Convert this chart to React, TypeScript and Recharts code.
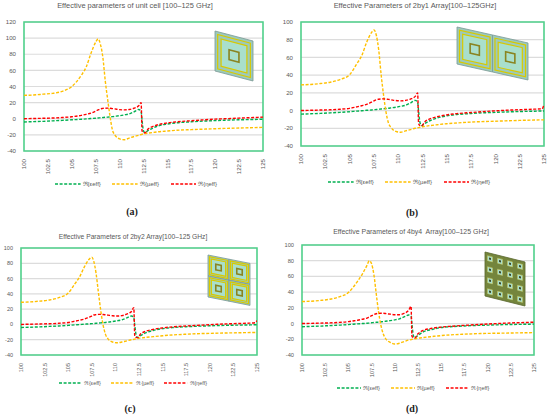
import React from 'react';
import { LineChart, Line, XAxis, YAxis, CartesianGrid, ReferenceArea } from 'recharts';

// frequency grids (GHz) and read-off values, one set per sub-figure
const FREQ_A = [100, 101, 102, 103, 104, 105, 106, 106.5, 107, 107.5, 107.75, 108, 108.25, 108.5, 108.75, 109, 109.25, 109.5, 110, 110.5, 111, 111.5, 112, 112.25, 112.35, 112.5, 112.65, 113, 113.5, 114, 115, 116, 117.5, 119, 120, 121, 122.5, 124, 125];
const EPS_A = [-4, -3.6, -3.2, -2.6, -2, -1.3, -0.6, -0.2, 0.3, 0.7, 1, 1.2, 1.5, 1.8, 2, 2.3, 2.6, 3, 3.8, 4.8, 6, 8.5, 11.5, 9, -2, -15, -17, -14.5, -11.5, -9, -6.5, -5, -3.8, -2.8, -2.3, -1.8, -1.3, -0.9, -0.6];
const MU_A = [29, 29.5, 30.5, 31.5, 34, 40, 54, 64, 81, 95, 99, 92, 76, 47, 24, 3, -14, -20, -25, -26, -24, -22, -20.5, -19.5, -19.2, -18.8, -18.4, -17.8, -17, -16.2, -15.2, -14.3, -13.5, -12.8, -12.4, -12, -11.5, -11, -10.7];
const ETA_A = [0, 0.3, 0.6, 0.9, 1.5, 2.5, 4.2, 5.5, 7, 9.5, 11, 12.3, 12.8, 13.1, 13.2, 13, 12.6, 12.2, 11.3, 11, 11.5, 13, 16, 20, -15, -17, -17.3, -12.5, -9.5, -7.5, -5.2, -3.8, -2.5, -1.2, -0.5, 0, 0.8, 1.5, 2];

const FREQ_B = [100, 101, 102, 103, 104, 105, 105.75, 106.25, 106.75, 107.25, 107.5, 107.75, 108, 108.25, 108.5, 108.75, 109, 109.25, 109.75, 110.25, 110.75, 111.25, 111.75, 112, 112.1, 112.25, 112.4, 112.75, 113.25, 114, 115, 116, 117.5, 119, 120, 121, 122.5, 124, 124.8, 125];
const EPS_B = [-4, -3.6, -3.2, -2.6, -2, -1.3, -0.6, -0.2, 0.3, 0.7, 1, 1.2, 1.5, 1.8, 2, 2.3, 2.6, 3, 3.8, 4.8, 6, 8.5, 11.5, 9.5, -1, -14, -17, -14.5, -11.5, -8.5, -6, -4.5, -3.3, -2.4, -2, -1.6, -1.1, -0.7, -0.5, -0.5];
const MU_B = [29, 29.5, 30.5, 32, 35, 40.5, 53, 62, 77, 88, 91, 85, 68, 40, 17, -2, -14, -19, -23.5, -24.5, -23, -21.5, -20, -19.5, -19.2, -18.8, -18.4, -17.8, -17, -16, -14.8, -14, -13, -12.3, -12, -11.6, -11.1, -10.7, -10.5, -10.5];
const ETA_B = [0, 0.3, 0.6, 0.9, 1.5, 2.5, 4.2, 5.5, 7, 9.5, 11, 12.3, 12.8, 13.1, 13.2, 13, 12.6, 12.2, 11.3, 11, 11.5, 13, 16, 20, -15, -17, -17.3, -12.5, -9.5, -7, -4.8, -3.5, -2.2, -1, -0.3, 0.3, 1, 1.6, 2, 7];

const FREQ_C = [100, 101, 102, 103, 104, 105, 105.7, 106.2, 106.7, 107.2, 107.5, 107.7, 107.95, 108.2, 108.45, 108.7, 108.95, 109.2, 109.7, 110.2, 110.7, 111.2, 111.7, 111.95, 112.05, 112.2, 112.35, 112.7, 113.2, 114, 115, 116, 117.5, 119, 120, 121, 122.5, 124, 124.8, 125];
const EPS_C = [-4, -3.6, -3.2, -2.6, -2, -1.3, -0.6, -0.2, 0.3, 0.7, 1, 1.2, 1.5, 1.8, 2, 2.3, 2.6, 3, 3.8, 4.8, 6, 8.5, 11, 9.5, -1, -14, -17, -14.5, -11, -8, -5.5, -4.2, -3, -2.2, -1.8, -1.4, -1, -0.7, -0.5, -0.5];
const MU_C = [29, 29.5, 30.5, 32, 35, 41, 53, 62, 75, 85, 88, 83, 67, 42, 18, -1, -13, -18.5, -23, -24, -23, -21.5, -20, -19.5, -19.2, -18.8, -18.4, -17.8, -17, -16, -14.8, -13.8, -12.8, -12, -11.7, -11.4, -11, -10.7, -10.5, -10.5];
const ETA_C = [0, 0.3, 0.6, 0.9, 1.5, 2.5, 4.2, 5.5, 7, 9.5, 11, 12.3, 12.8, 13.1, 13.2, 13, 12.6, 12.2, 11.3, 11, 11.5, 13.5, 17, 22, -15, -17, -17.3, -12, -9, -6.5, -4.5, -3.3, -2, -1, -0.3, 0.3, 1, 1.6, 2.2, 5];

const FREQ_D = [100, 101, 102, 103, 104, 105, 105.5, 106, 106.5, 107, 107.25, 107.5, 107.75, 108, 108.25, 108.5, 108.75, 109, 109.5, 110, 110.5, 111, 111.5, 111.75, 111.85, 112, 112.15, 112.5, 113, 114, 115, 116, 117.5, 119, 120, 121, 122.5, 124, 125];
const EPS_D = [-4, -3.6, -3.2, -2.6, -2, -1.3, -0.8, -0.4, 0, 0.4, 0.7, 1, 1.3, 1.6, 1.9, 2.2, 2.5, 2.9, 3.7, 4.7, 6, 8.5, 11, 9.5, -1, -15, -18, -15, -11, -7.5, -5, -4, -3, -2.3, -2, -1.6, -1.2, -0.9, -0.7];
const MU_D = [28, 28.5, 29.5, 31, 34, 39.5, 46, 54, 63, 74, 80, 76, 62, 38, 15, -2, -13, -19, -24, -26, -25, -23, -21, -20.5, -20.2, -19.8, -19.4, -18.6, -17.8, -16.5, -15.3, -14.4, -13.5, -12.8, -12.5, -12.3, -12, -11.7, -11.5];
const ETA_D = [0, 0.3, 0.6, 0.9, 1.5, 2.5, 3.3, 4.2, 5.5, 7, 8.5, 10, 11.5, 12.5, 13, 13.2, 13.1, 12.8, 12, 11.2, 11.3, 13, 17, 22, -16, -18, -18.3, -13, -9, -6, -4.5, -3.5, -2.3, -1.2, -0.6, 0, 0.8, 1.4, 1.8];

const X_TICKS = [100, 102.5, 105, 107.5, 110, 112.5, 115, 117.5, 120, 122.5, 125];
const Y_TICKS_A = [-40, -20, 0, 20, 40, 60, 80, 100, 120];
const Y_TICKS = [-40, -20, 0, 20, 40, 60, 80, 100];
const SERIES_KEYS = ['eps', 'mu', 'eta'];
const SERIES_NAMES = ['ℜ{εeff}', 'ℜ{µeff}', 'ℜ{ηeff}'];
const TITLES = [
  'Effective parameters of unit cell [100–125 GHz]',
  'Effective Parameters of 2by1 Array[100–125GHz]',
  'Effective Parameters of 2by2 Array[100–125 GHz]',
  'Effective Parameters of 4by4  Array[100–125 GHz]',
];

const COLORS: Record<string, string> = { eps: '#00b050', mu: '#ffc000', eta: '#ff0000' };
const TXT = '#595959';
const FONT = '"Liberation Sans", Arial, sans-serif';

const rows = (f: number[], eps: number[], mu: number[], eta: number[]) =>
  f.map((v, i) => ({ f: v, eps: eps[i], mu: mu[i], eta: eta[i] }));

const RotTick = (props: any) => {
  const { x, y, payload, fs } = props;
  return (
    <text x={x} y={y} transform={`rotate(-90 ${x} ${y})`} textAnchor="end" dy="0.35em"
      fontSize={fs} fill={TXT} fontFamily={FONT}>
      {payload.value}
    </text>
  );
};

// little pictures of the metasurface drawn in the corner of each plot
const Cell = ({ x, y, w, h }: { x: number; y: number; w: number; h: number }) => {
  const s = Math.min(w, h) * 0.26;
  return (
    <g>
      <rect x={x} y={y} width={w} height={h} fill="#9ccabc" stroke="#7f9c98" strokeWidth={0.8} />
      <rect x={x + w * 0.07} y={y + h * 0.07} width={w * 0.86} height={h * 0.86} fill="none" stroke="#d8c900" strokeWidth={1.2} />
      <rect x={x + w * 0.16} y={y + h * 0.16} width={w * 0.68} height={h * 0.68} fill="#a9dfcb" stroke="#d8c900" strokeWidth={1.2} />
      <rect x={x + w / 2 - s / 2} y={y + h / 2 - s / 2} width={s} height={s} fill="none" stroke="#8a8420" strokeWidth={1.6} />
    </g>
  );
};

const Inset = ({ x, y, w, h, cols, rowsN, skew, dense }: any) => {
  const cw = w / cols;
  const ch = h / rowsN;
  const cells = [];
  for (let r = 0; r < rowsN; r++) {
    for (let c = 0; c < cols; c++) {
      if (dense) {
        const s = cw * 0.5;
        cells.push(
          <g key={`${r}-${c}`}>
            <rect x={c * cw + cw / 2 - s / 2} y={r * ch + ch / 2 - s / 2} width={s} height={s} fill="#a9dfcb" stroke="#c8c860" strokeWidth={0.5} />
            <rect x={c * cw + cw / 2 - s / 5} y={r * ch + ch / 2 - s / 5} width={s / 2.5} height={s / 2.5} fill="#3d4a2a" />
          </g>
        );
      } else {
        cells.push(<Cell key={`${r}-${c}`} x={c * cw} y={r * ch} w={cw} h={ch} />);
      }
    }
  }
  return (
    <svg style={{ position: 'absolute', left: 0, top: 0, overflow: 'visible' }} width={1} height={1}>
      <g transform={`matrix(1 ${skew} 0 1 ${x} ${y})`}>
        {dense && <rect x={0} y={0} width={w} height={h} fill="#74853c" stroke="#5c6a30" strokeWidth={0.8} />}
        {cells}
      </g>
    </svg>
  );
};

type PanelProps = {
  data: any[];
  title: string;
  yTicks: number[];
  plot: { l: number; t: number; r: number; b: number };
  fs: number;
  titlePos: [number, number];
  legendPos: [number, number];
  label: string;
  labelPos: [number, number];
};

const Panel = ({ data, title, yTicks, plot, fs, titlePos, legendPos, label, labelPos }: PanelProps) => {
  const left = plot.l - 26;
  const top = plot.t - 4;
  const width = plot.r - left + 4;
  const height = plot.b - top + 32;
  const yMin = yTicks[0];
  const yMax = yTicks[yTicks.length - 1];
  return (
    <>
      <div style={{ position: 'absolute', left: titlePos[0] - 150, top: titlePos[1] - fs, width: 300, textAlign: 'center', fontSize: fs * 1.22, color: TXT, whiteSpace: 'pre', lineHeight: `${fs * 2}px` }}>
        {title}
      </div>
      <div style={{ position: 'absolute', left, top }}>
        <LineChart width={width} height={height} data={data} margin={{ top: 4, right: 4, bottom: 0, left: 0 }}>
          <CartesianGrid vertical={false} stroke="#dcdcdc" strokeWidth={1.2} />
          <XAxis dataKey="f" type="number" domain={[100, 125]} ticks={X_TICKS} interval={0}
            axisLine={false} tickLine={false} height={32} allowDataOverflow
            tick={(p: any) => <RotTick {...p} fs={fs} />} />
          <YAxis type="number" domain={[yMin, yMax]} ticks={yTicks} interval={0} width={26}
            axisLine={false} tickLine={false} allowDataOverflow
            tick={{ fontSize: fs, fill: TXT, fontFamily: FONT }} />
          <ReferenceArea x1={100} x2={125} y1={yMin} y2={yMax} fill="none" stroke="#4fd08a"
            strokeWidth={1.6} ifOverflow="visible" />
          {SERIES_KEYS.map((k) => (
            <Line key={k} type="monotone" dataKey={k} stroke={COLORS[k]} strokeWidth={1.4}
              strokeDasharray="3 1.6" dot={false} activeDot={false} isAnimationActive={false} />
          ))}
        </LineChart>
      </div>
      <div style={{ position: 'absolute', left: legendPos[0] - 120, top: legendPos[1] - 6, width: 240, height: 12, display: 'flex', justifyContent: 'center', alignItems: 'center', gap: fs * 1.9, fontSize: fs * 0.98, color: TXT }}>
        {SERIES_KEYS.map((k, i) => (
          <div key={k} style={{ display: 'flex', alignItems: 'center', gap: 2 }}>
            <svg width={fs * 4.2} height={4}>
              <line x1={0} y1={2} x2={fs * 4.2} y2={2} stroke={COLORS[k]} strokeWidth={1.5} strokeDasharray="3 1.6" />
            </svg>
            <span>{SERIES_NAMES[i]}</span>
          </div>
        ))}
      </div>
      <div style={{ position: 'absolute', left: labelPos[0] - 20, top: labelPos[1] - 7, width: 40, textAlign: 'center', fontFamily: '"Liberation Serif", serif', fontWeight: 'bold', fontSize: 10, color: '#222', lineHeight: '14px' }}>
        {label}
      </div>
    </>
  );
};

export default function App() {
  const a = rows(FREQ_A, EPS_A, MU_A, ETA_A);
  const b = rows(FREQ_B, EPS_B, MU_B, ETA_B);
  const c = rows(FREQ_C, EPS_C, MU_C, ETA_C);
  const d = rows(FREQ_D, EPS_D, MU_D, ETA_D);
  return (
    <div style={{ position: 'absolute', left: 0, top: 0, width: 550, height: 418, background: '#fff', overflow: 'hidden', fontFamily: FONT }}>
      <Panel data={a} title={TITLES[0]} yTicks={Y_TICKS_A} plot={{ l: 24, t: 22, r: 263, b: 151 }} fs={6.1}
        titlePos={[135, 6]} legendPos={[136, 184]} label="(a)" labelPos={[132, 212]} />
      <Panel data={b} title={TITLES[1]} yTicks={Y_TICKS} plot={{ l: 301, t: 22, r: 544, b: 146 }} fs={6.1}
        titlePos={[415, 6]} legendPos={[409, 182]} label="(b)" labelPos={[412, 213]} />
      <Panel data={c} title={TITLES[2]} yTicks={Y_TICKS} plot={{ l: 21, t: 248, r: 257, b: 355 }} fs={5.5}
        titlePos={[133, 236]} legendPos={[133, 383]} label="(c)" labelPos={[130, 409]} />
      <Panel data={d} title={TITLES[3]} yTicks={Y_TICKS} plot={{ l: 302, t: 245, r: 534, b: 355 }} fs={5.7}
        titlePos={[411, 232]} legendPos={[413, 388]} label="(d)" labelPos={[412, 409]} />
      <Inset x={215} y={31} w={38} h={40} cols={1} rowsN={1} skew={0.263} />
      <Inset x={457} y={27} w={71} h={37} cols={2} rowsN={1} skew={0.225} />
      <Inset x={208} y={255} w={42} h={42} cols={2} rowsN={2} skew={0.2} />
      <Inset x={485} y={252} w={40} h={44} cols={4} rowsN={4} skew={0.25} dense />
    </div>
  );
}
